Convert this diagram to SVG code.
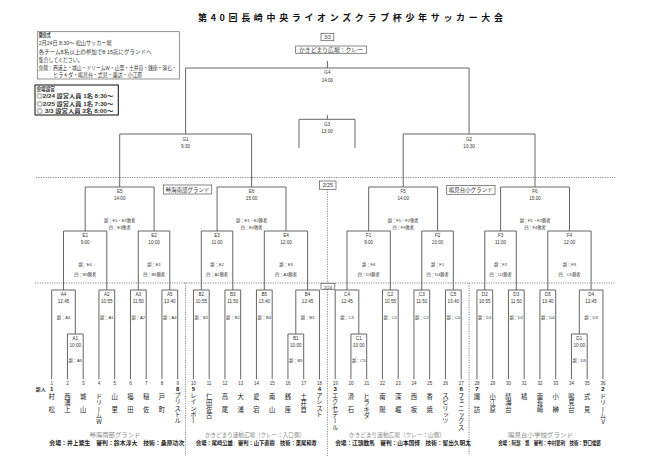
<svg xmlns="http://www.w3.org/2000/svg" width="650" height="459" viewBox="0 0 650 459">
<style>
.ln{fill:none;stroke:#555;stroke-width:0.9}
.dt{fill:none;stroke:#555;stroke-width:0.7;stroke-dasharray:1.2 1.2}
.bx{fill:#fff;stroke:#555;stroke-width:0.7}
.t{font-family:"Liberation Sans","Noto Sans CJK JP",sans-serif;fill:#333;text-anchor:middle}
.m{font-size:4.6px}
.n{font-size:4.2px}
.num{font-size:4.5px}
.sd{font-size:6px;font-weight:bold;fill:#111}
.nm{font-family:"Noto Sans CJK JP",sans-serif;font-size:6.3px;fill:#222;writing-mode:vertical-rl;text-orientation:upright}
.nm2{letter-spacing:6.3px}
.ven{font-family:"Noto Sans CJK JP",sans-serif;font-size:6px;fill:#888;text-anchor:middle}
.stf{font-family:"Noto Sans CJK JP",sans-serif;font-size:5.6px;font-weight:bold;fill:#222;text-anchor:middle}
.info{font-family:"Liberation Sans","Noto Sans CJK JP",sans-serif;font-size:5.3px;fill:#333}
.lbl{font-family:"Noto Sans CJK JP",sans-serif;font-size:5.4px;fill:#333;text-anchor:middle}
</style>
<rect width="650" height="459" fill="#fff"/>

<text x="198" y="20.5" font-family="Noto Sans CJK JP, sans-serif" font-weight="bold" font-size="9" fill="#111" textLength="305" lengthAdjust="spacing">第40回長崎中央ライオンズクラブ杯少年サッカー大会</text>

<g id="opening">
<rect x="37.3" y="31.7" width="142" height="47.3" fill="#fff" stroke="#666" stroke-width="0.7"/>
<text class="info" x="38.7" y="37.2" font-weight="bold" textLength="12" lengthAdjust="spacingAndGlyphs">開会式</text>
<text class="info" x="38.7" y="45.3" textLength="73" lengthAdjust="spacingAndGlyphs">2月24日 8:30～ 松山サッカー場</text>
<text class="info" x="38.7" y="53.7" textLength="113" lengthAdjust="spacingAndGlyphs">各チーム8名以上の参加で8:15迄にグランドへ</text>
<text class="info" x="38.7" y="62" textLength="44" lengthAdjust="spacingAndGlyphs">集合してください。</text>
<text class="info" x="38.7" y="69.7" textLength="138" lengthAdjust="spacingAndGlyphs">免除：西浦上・城山・ドリームW・山里・土井首・銭座・滑石・</text>
<text class="info" x="53.3" y="77" textLength="89" lengthAdjust="spacingAndGlyphs">ヒラキダ・鳴見台・式見・諏訪・小江原</text>
</g>

<g id="setup">
<rect x="35" y="85" width="83.3" height="30" fill="#fff" stroke="#222" stroke-width="1.1"/>
<text class="info" x="36.5" y="90.6" font-weight="bold" textLength="18.5" lengthAdjust="spacingAndGlyphs">会場設営</text>
<text class="info" x="36.5" y="98.2" font-weight="bold" textLength="76.8" lengthAdjust="spacingAndGlyphs">◎2/24 設営人員 1名 8:30～</text>
<text class="info" x="36.5" y="105.6" font-weight="bold" textLength="76.8" lengthAdjust="spacingAndGlyphs">◎2/25 設営人員 1名 7:30～</text>
<text class="info" x="36.5" y="113.2" font-weight="bold" textLength="76.8" lengthAdjust="spacingAndGlyphs">◎ 3/3 設営人員 2名 8:00～</text>
</g>

<g id="dividers">
<path class="dt" d="M36,177.5 H615 M35,283 H615 M327.4,189.3 V283.3 M327.4,289.5 V456 M185.6,283 V455 M469.1,283 V455"/>
</g>

<g id="connectors">
<path class="ln" d="M327.4,61 V68 M185.6,134 V68 H469.1 V134"/>
<path class="ln" d="M327.4,115 V119.3 M299,148 V119.3 H355 V148"/>
<path class="ln" d="M119.7,187 V134 H251.6 V187 M403.2,187 V134 H535 V187"/>
<path class="ln" d="M85.2,231 V187 H154.1 V231 M217.1,231 V187 H286 V231 M368.7,231 V187 H437.6 V231 M500.6,231 V187 H569.5 V231"/>
<path class="ln" d="M63.5,290 V231 H106.8 V290 M138.3,290 V231 H169.8 V290 M201.3,290 V231 H232.8 V290 M264.3,290 V231 H307.6 V290 M347,290 V231 H390.3 V290 M421.8,290 V231 H453.3 V290 M484.8,290 V231 H516.3 V290 M547.8,290 V231 H591.1 V290"/>
<path class="ln" d="M51.7,379.3 V290 H75.3 V334 M98.95,379.3 V290 H114.7 V379.3 M130.45,379.3 V290 H146.2 V379.3 M161.95,379.3 V290 H177.7 V379.3 M193.45,379.3 V290 H209.2 V379.3 M224.95,379.3 V290 H240.7 V379.3 M256.45,379.3 V290 H272.2 V379.3 M295.8,334 V290 H319.45 V379.3 M335.2,379.3 V290 H358.8 V334 M382.45,379.3 V290 H398.2 V379.3 M413.95,379.3 V290 H429.7 V379.3 M445.45,379.3 V290 H461.2 V379.3 M476.95,379.3 V290 H492.7 V379.3 M508.45,379.3 V290 H524.2 V379.3 M539.95,379.3 V290 H555.7 V379.3 M579.3,334 V290 H602.95 V379.3"/>
<path class="ln" d="M67.45,379.3 V334 H83.2 V379.3 M287.95,379.3 V334 H303.7 V379.3 M350.95,379.3 V334 H366.7 V379.3 M571.45,379.3 V334 H587.2 V379.3"/>
</g>

<g id="final-venue">
<rect class="bx" x="321" y="33.3" width="12.8" height="7.4"/>
<text class="t" x="327.4" y="39" font-size="5">3/3</text>
<rect class="bx" x="295.7" y="46" width="71" height="7.3"/>
<text class="lbl" x="331" y="51.8" font-size="5.2" textLength="64" lengthAdjust="spacingAndGlyphs">かきどまり広場：クレー</text>
</g>
<g id="date-2-25"><rect class="bx" x="319.6" y="181" width="16.4" height="8.3"/><text class="t" x="327.8" y="187.4" font-size="5.3">2/25</text></g>
<g id="date-2-24"><rect class="bx" x="321" y="283.3" width="13.8" height="6.2"/><text class="t" x="327.9" y="288.5" font-size="4.4">2/24</text></g>
<g id="venue-E"><rect class="bx" x="163.3" y="185" width="48.4" height="9"/><text class="lbl" x="187.5" y="191.6" textLength="44" lengthAdjust="spacingAndGlyphs">琴海南部グランド</text></g>
<g id="venue-F"><rect class="bx" x="446.7" y="185.5" width="48.3" height="8.8"/><text class="lbl" x="470.8" y="192" textLength="44" lengthAdjust="spacingAndGlyphs">鳴見台小グランド</text></g>

<g id="m-G4"><text class="t m" x="327.4" y="74.2">G4</text><text class="t m" x="327.4" y="81.5">14:00</text></g>
<g id="m-G3"><text class="t m" x="327" y="125.8">G3</text><text class="t m" x="327" y="132.5">13:00</text></g>
<g id="m-G1"><text class="t m" x="185.6" y="140.8">G1</text><text class="t m" x="185.6" y="147.5">9:30</text></g>
<g id="m-G2"><text class="t m" x="469.1" y="140.8">G2</text><text class="t m" x="469.1" y="147.5">10:30</text></g>

<g id="m-E5"><text class="t m" x="119.7" y="192.8">E5</text><text class="t m" x="119.7" y="200">14:00</text><text class="t n" x="119.7" y="222.2">副：E1・E2敗者</text><text class="t n" x="119.7" y="228.8">四：E3敗者</text></g>
<g id="m-E6"><text class="t m" x="251.6" y="192.8">E6</text><text class="t m" x="251.6" y="200">15:00</text><text class="t n" x="251.6" y="222.2">副：E1・E2勝者</text><text class="t n" x="251.6" y="228.8">四：E4敗者</text></g>
<g id="m-F5"><text class="t m" x="403.2" y="192.8">F5</text><text class="t m" x="403.2" y="200">14:00</text><text class="t n" x="403.2" y="222.2">副：F1・F2敗者</text><text class="t n" x="403.2" y="228.8">四：F3敗者</text></g>
<g id="m-F6"><text class="t m" x="535" y="192.8">F6</text><text class="t m" x="535" y="200">15:00</text><text class="t n" x="535" y="222.2">副：F1・F2勝者</text><text class="t n" x="535" y="228.8">四：F4敗者</text></g>

<g id="m-E1"><text class="t m" x="85.2" y="236.5">E1</text><text class="t m" x="85.2" y="244">9:00</text><text class="t n" x="85.2" y="265.5">副：E4</text><text class="t n" x="85.2" y="275.5">四：B3勝者</text></g>
<g id="m-E2"><text class="t m" x="154.1" y="236.5">E2</text><text class="t m" x="154.1" y="244">10:00</text><text class="t n" x="154.1" y="265.5">副：E1</text><text class="t n" x="154.1" y="275.5">四：B5勝者</text></g>
<g id="m-E3"><text class="t m" x="217.1" y="236.5">E3</text><text class="t m" x="217.1" y="244">11:00</text><text class="t n" x="217.1" y="265.5">副：E2</text><text class="t n" x="217.1" y="275.5">四：A2勝者</text></g>
<g id="m-E4"><text class="t m" x="286" y="236.5">E4</text><text class="t m" x="286" y="244">12:00</text><text class="t n" x="286" y="265.5">副：E3</text><text class="t n" x="286" y="275.5">四：A3勝者</text></g>
<g id="m-F1"><text class="t m" x="368.7" y="236.5">F1</text><text class="t m" x="368.7" y="244">9:00</text><text class="t n" x="368.7" y="265.5">副：F4</text><text class="t n" x="368.7" y="275.5">四：D3勝者</text></g>
<g id="m-F2"><text class="t m" x="437.6" y="236.5">F2</text><text class="t m" x="437.6" y="244">10:00</text><text class="t n" x="437.6" y="265.5">副：F1</text><text class="t n" x="437.6" y="275.5">四：D4勝者</text></g>
<g id="m-F3"><text class="t m" x="500.6" y="236.5">F3</text><text class="t m" x="500.6" y="244">11:00</text><text class="t n" x="500.6" y="265.5">副：F2</text><text class="t n" x="500.6" y="275.5">四：C2勝者</text></g>
<g id="m-F4"><text class="t m" x="569.5" y="236.5">F4</text><text class="t m" x="569.5" y="244">12:00</text><text class="t n" x="569.5" y="265.5">副：F3</text><text class="t n" x="569.5" y="275.5">四：C5勝者</text></g>

<g id="m-A4"><text class="t m" x="63.5" y="296.3">A4</text><text class="t m" x="63.5" y="303">12:45</text><text class="t n" x="63.5" y="319">副：A3</text></g>
<g id="m-A2"><text class="t m" x="106.8" y="296.3">A2</text><text class="t m" x="106.8" y="303">10:55</text><text class="t n" x="106.8" y="319">副：A1</text></g>
<g id="m-A3"><text class="t m" x="138.3" y="296.3">A3</text><text class="t m" x="138.3" y="303">11:50</text><text class="t n" x="138.3" y="319">副：A2</text></g>
<g id="m-A5"><text class="t m" x="169.8" y="296.3">A5</text><text class="t m" x="169.8" y="303">13:40</text><text class="t n" x="169.8" y="319">副：A4</text></g>
<g id="m-B2"><text class="t m" x="201.3" y="296.3">B2</text><text class="t m" x="201.3" y="303">10:55</text><text class="t n" x="201.3" y="319">副：B1</text></g>
<g id="m-B3"><text class="t m" x="232.8" y="296.3">B3</text><text class="t m" x="232.8" y="303">11:50</text><text class="t n" x="232.8" y="319">副：B2</text></g>
<g id="m-B5"><text class="t m" x="264.3" y="296.3">B5</text><text class="t m" x="264.3" y="303">13:40</text><text class="t n" x="264.3" y="319">副：B4</text></g>
<g id="m-B4"><text class="t m" x="307.6" y="296.3">B4</text><text class="t m" x="307.6" y="303">12:45</text><text class="t n" x="307.6" y="319">副：B3</text></g>
<g id="m-C4"><text class="t m" x="347" y="296.3">C4</text><text class="t m" x="347" y="303">12:45</text><text class="t n" x="347" y="319">副：C3</text></g>
<g id="m-C2"><text class="t m" x="390.3" y="296.3">C2</text><text class="t m" x="390.3" y="303">10:55</text><text class="t n" x="390.3" y="319">副：C1</text></g>
<g id="m-C3"><text class="t m" x="421.8" y="296.3">C3</text><text class="t m" x="421.8" y="303">11:50</text><text class="t n" x="421.8" y="319">副：C2</text></g>
<g id="m-C5"><text class="t m" x="453.3" y="296.3">C5</text><text class="t m" x="453.3" y="303">13:40</text><text class="t n" x="453.3" y="319">副：C4</text></g>
<g id="m-D2"><text class="t m" x="484.8" y="296.3">D2</text><text class="t m" x="484.8" y="303">10:55</text><text class="t n" x="484.8" y="319">副：D1</text></g>
<g id="m-D3"><text class="t m" x="516.3" y="296.3">D3</text><text class="t m" x="516.3" y="303">11:50</text><text class="t n" x="516.3" y="319">副：D2</text></g>
<g id="m-D5"><text class="t m" x="547.8" y="296.3">D5</text><text class="t m" x="547.8" y="303">13:40</text><text class="t n" x="547.8" y="319">副：D4</text></g>
<g id="m-D4"><text class="t m" x="591.1" y="296.3">D4</text><text class="t m" x="591.1" y="303">12:45</text><text class="t n" x="591.1" y="319">副：D3</text></g>

<g id="m-A1"><text class="t m" x="75.3" y="340.2">A1</text><text class="t m" x="75.3" y="346.7">10:00</text><text class="t n" x="75.3" y="362">副：A5</text></g>
<g id="m-B1"><text class="t m" x="295.8" y="340.2">B1</text><text class="t m" x="295.8" y="346.7">10:00</text><text class="t n" x="295.8" y="362">副：B5</text></g>
<g id="m-C1"><text class="t m" x="358.8" y="340.2">C1</text><text class="t m" x="358.8" y="346.7">10:00</text><text class="t n" x="358.8" y="362">副：C5</text></g>
<g id="m-D1"><text class="t m" x="579.3" y="340.2">D1</text><text class="t m" x="579.3" y="346.7">10:00</text><text class="t n" x="579.3" y="362">副：D5</text></g>

<text class="t" x="40.7" y="390.8" font-size="5" font-weight="bold" fill="#111">新人</text>

<g id="team-1"><text class="t num" x="51.7" y="384.5">1</text><text class="t sd" x="51.7" y="390.8">1</text><text class="nm nm2" x="51.7" y="393.5">村松</text></g>
<g id="team-2"><text class="t num" x="67.45" y="384.5">2</text><text class="nm" x="67.45" y="393.5">西浦上</text></g>
<g id="team-3"><text class="t num" x="83.2" y="384.5">3</text><text class="nm nm2" x="83.2" y="393.5">城山</text></g>
<g id="team-4"><text class="t num" x="98.95" y="384.5">4</text><text class="nm" x="98.95" y="393.5">ドリームW</text></g>
<g id="team-5"><text class="t num" x="114.7" y="384.5">5</text><text class="nm nm2" x="114.7" y="393.5">山里</text></g>
<g id="team-6"><text class="t num" x="130.45" y="384.5">6</text><text class="nm nm2" x="130.45" y="393.5">福田</text></g>
<g id="team-7"><text class="t num" x="146.2" y="384.5">7</text><text class="nm nm2" x="146.2" y="393.5">稲佐</text></g>
<g id="team-8"><text class="t num" x="161.95" y="384.5">8</text><text class="nm nm2" x="161.95" y="393.5">戸町</text></g>
<g id="team-9"><text class="t num" x="177.7" y="384.5">9</text><text class="t sd" x="177.7" y="390.8">8</text><text class="nm" x="177.7" y="392.5">ブリストル</text></g>
<g id="team-10"><text class="t num" x="193.45" y="384.5">10</text><text class="t sd" x="193.45" y="390.8">5</text><text class="nm" x="193.45" y="392.5">レインボー</text></g>
<g id="team-11"><text class="t num" x="209.2" y="384.5">11</text><text class="nm" x="209.2" y="393.5">仁田佐古</text></g>
<g id="team-12"><text class="t num" x="224.95" y="384.5">12</text><text class="nm nm2" x="224.95" y="393.5">高尾</text></g>
<g id="team-13"><text class="t num" x="240.7" y="384.5">13</text><text class="nm nm2" x="240.7" y="393.5">大浦</text></g>
<g id="team-14"><text class="t num" x="256.45" y="384.5">14</text><text class="nm nm2" x="256.45" y="393.5">愛宕</text></g>
<g id="team-15"><text class="t num" x="272.2" y="384.5">15</text><text class="nm nm2" x="272.2" y="393.5">南山</text></g>
<g id="team-16"><text class="t num" x="287.95" y="384.5">16</text><text class="nm nm2" x="287.95" y="393.5">銭座</text></g>
<g id="team-17"><text class="t num" x="303.7" y="384.5">17</text><text class="nm" x="303.7" y="393.5">土井首</text></g>
<g id="team-18"><text class="t num" x="319.45" y="384.5">18</text><text class="t sd" x="319.45" y="390.8">4</text><text class="nm" x="319.45" y="392.5">アシスト</text></g>
<g id="team-19"><text class="t num" x="335.2" y="384.5">19</text><text class="t sd" x="335.2" y="390.8">3</text><text class="nm" x="335.2" y="392.5" font-size="5.8">エクセデール</text></g>
<g id="team-20"><text class="t num" x="350.95" y="384.5">20</text><text class="nm nm2" x="350.95" y="393.5">滑石</text></g>
<g id="team-21"><text class="t num" x="366.7" y="384.5">21</text><text class="nm" x="366.7" y="393.5">ヒラキダ</text></g>
<g id="team-22"><text class="t num" x="382.45" y="384.5">22</text><text class="nm nm2" x="382.45" y="393.5">南陽</text></g>
<g id="team-23"><text class="t num" x="398.2" y="384.5">23</text><text class="nm nm2" x="398.2" y="393.5">深堀</text></g>
<g id="team-24"><text class="t num" x="413.95" y="384.5">24</text><text class="nm nm2" x="413.95" y="393.5">西坂</text></g>
<g id="team-25"><text class="t num" x="429.7" y="384.5">25</text><text class="nm nm2" x="429.7" y="393.5">香焼</text></g>
<g id="team-26"><text class="t num" x="445.45" y="384.5">26</text><text class="nm" x="445.45" y="392.5">スピリッツ</text></g>
<g id="team-27"><text class="t num" x="461.2" y="384.5">27</text><text class="t sd" x="461.2" y="390.8">6</text><text class="nm" x="461.2" y="392.5" font-size="5.5">フェニックス</text></g>
<g id="team-28"><text class="t num" x="476.95" y="384.5">28</text><text class="t sd" x="476.95" y="390.8">7</text><text class="nm nm2" x="476.95" y="393.5">諏訪</text></g>
<g id="team-29"><text class="t num" x="492.7" y="384.5">29</text><text class="nm" x="492.7" y="393.5">小江原</text></g>
<g id="team-30"><text class="t num" x="508.45" y="384.5">30</text><text class="nm" x="508.45" y="393.5">晴海台</text></g>
<g id="team-31"><text class="t num" x="524.2" y="384.5">31</text><text class="nm" x="524.2" y="393.5">橘</text></g>
<g id="team-32"><text class="t num" x="539.95" y="384.5">32</text><text class="nm" x="539.95" y="393.5">南長崎</text></g>
<g id="team-33"><text class="t num" x="555.7" y="384.5">33</text><text class="nm nm2" x="555.7" y="393.5">小榊</text></g>
<g id="team-34"><text class="t num" x="571.45" y="384.5">34</text><text class="nm" x="571.45" y="393.5">鳴見台</text></g>
<g id="team-35"><text class="t num" x="587.2" y="384.5">35</text><text class="nm nm2" x="587.2" y="393.5">式見</text></g>
<g id="team-36"><text class="t num" x="602.95" y="384.5">36</text><text class="t sd" x="602.95" y="390.8">2</text><text class="nm" x="602.95" y="393.5">ドリームV</text></g>

<g id="ground-A">
<text class="ven" x="115" y="436.8" textLength="51" lengthAdjust="spacingAndGlyphs">琴海南部グランド</text>
<text class="stf" x="116.8" y="444.5" textLength="135" lengthAdjust="spacingAndGlyphs">会場：井上繁生　審判：鈴木淳大　技術：桑原功次</text>
</g>
<g id="ground-B">
<text class="ven" x="255" y="436.8" textLength="100" lengthAdjust="spacingAndGlyphs">かきどまり運動広場（クレー：入口側）</text>
<text class="stf" x="256.3" y="444.5" textLength="120.7" lengthAdjust="spacingAndGlyphs">会場：尾崎公雄　審判：山下直樹　技術：東尾和寿</text>
</g>
<g id="ground-C">
<text class="ven" x="397" y="436.8" textLength="96" lengthAdjust="spacingAndGlyphs">かきどまり運動広場（クレー：山側）</text>
<text class="stf" x="403" y="444.5" textLength="135.7" lengthAdjust="spacingAndGlyphs">会場：江頭数馬　審判：山本国博　技術：留出久明太</text>
</g>
<g id="ground-D">
<text class="ven" x="540.6" y="436.8" textLength="65" lengthAdjust="spacingAndGlyphs">鳴見台小学校グランド</text>
<text class="stf" x="549.5" y="444.5" textLength="102.7" lengthAdjust="spacingAndGlyphs">会場：阿部　悠　審判：中村彰利　技術：野口俊郎</text>
</g>
</svg>
